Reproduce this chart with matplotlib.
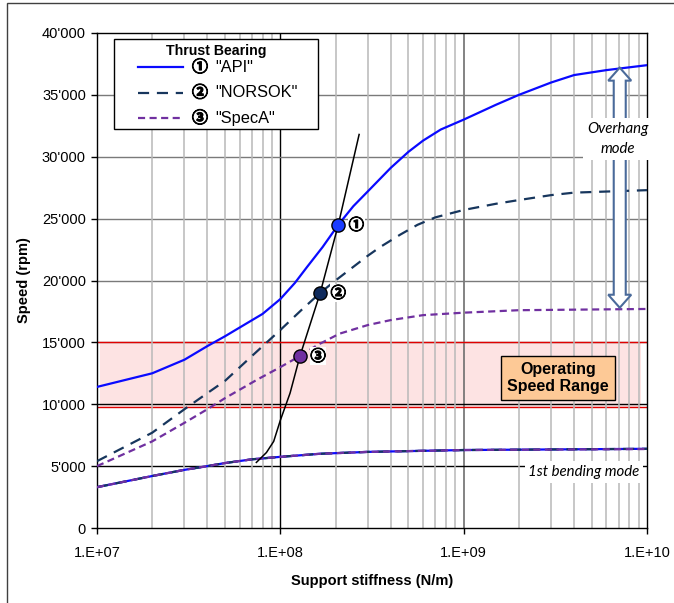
import matplotlib
matplotlib.use('Agg')
import matplotlib.pyplot as plt
import matplotlib.patheffects as pe
import numpy as np
from matplotlib.patches import Rectangle, Polygon
from matplotlib.lines import Line2D
from matplotlib.ticker import FixedLocator, FuncFormatter, NullFormatter

plt.rcParams['font.family'] = ['Liberation Sans', 'DejaVu Sans']
SYM = ['Noto Sans CJK JP', 'Liberation Sans']
THICK = [pe.Stroke(linewidth=0.8, foreground='black'), pe.Normal()]

# ---- data (stiffness N/m, speed rpm) ----
api_x = [1e7, 2e7, 3e7, 4e7, 5e7, 6e7, 8e7, 1e8, 1.2e8, 1.4e8, 1.7e8, 2.07e8, 2.5e8, 3e8, 4e8, 5e8, 6e8,
         7.5e8, 1e9, 1.5e9, 2e9, 3e9, 4e9, 6e9, 1e10]
api_y = [11400, 12500, 13600, 14700, 15500, 16200, 17300, 18500, 19800, 21100, 22700, 24500, 26000, 27200,
         29100, 30400, 31300, 32200, 33000, 34200, 35000, 36000, 36600, 37000, 37400]

norsok_x = [1e7, 2e7, 3e7, 4e7, 5e7, 7e7, 1e8, 1.3e8, 1.65e8, 2e8, 2.4e8, 3e8, 3.5e8, 4.5e8, 5.6e8, 7e8,
            1e9, 1.5e9, 2e9, 3e9, 4e9, 1e10]
norsok_y = [5400, 7700, 9600, 10900, 11900, 13900, 16000, 17600, 19000, 20000, 20900, 22000, 22700, 23700,
            24500, 25100, 25700, 26200, 26500, 26900, 27100, 27300]

speca_x = [1e7, 2e7, 3e7, 4e7, 5e7, 7.5e7, 1e8, 1.28e8, 1.6e8, 2.1e8, 3e8, 4e8, 6e8, 1e9, 2e9, 1e10]
speca_y = [5000, 7000, 8500, 9600, 10500, 12000, 13000, 13900, 14800, 15700, 16400, 16800, 17200, 17400,
           17600, 17700]

bend_x = [1e7, 2e7, 3e7, 4e7, 5e7, 7e7, 1e8, 1.65e8, 3e8, 1e9, 1e10]
bend_api_y = [3300, 4200, 4700, 5000, 5250, 5550, 5750, 6000, 6150, 6300, 6400]
bend_norsok_y = [3300, 4200, 4700, 5000, 5250, 5550, 5750, 6000, 6150, 6300, 6400]
bend_speca_y = [3300, 4200, 4700, 5000, 5250, 5550, 5750, 6000, 6150, 6300, 6380]

crit_x = [7.4e7, 8.4e7, 9.2e7, 1e8, 1.13e8, 1.28e8, 1.65e8, 2.07e8, 2.69e8]
crit_y = [5300, 6100, 7000, 8700, 10900, 13900, 19000, 24500, 31800]

point_x = [2.07e8, 1.65e8, 1.28e8]
point_y = [24500, 19000, 13900]
point_tags = ['\u2460', '\u2461', '\u2462']

band_low, band_high = 9750, 15000
overhang_top, overhang_bottom, overhang_k = 37200, 17800, 7.1e9

names = ['"API"', '"NORSOK"', '"SpecA"']
c_api, c_nor, c_spa = '#0a0aff', '#17365d', '#7030a0'
marker_fill = ['#1a3cff', '#0f2a5c', '#7030a0']

W, H = 674, 603
fig = plt.figure(figsize=(W / 100, H / 100), dpi=100)
ax = fig.add_axes([97 / W, 1 - 528 / H, 550 / W, 495 / H])
ax.set_xscale('log')
ax.set_xlim(1e7, 1e10)
ax.set_ylim(0, 40000)


def fpx(x, y):
    return x / W, 1 - y / H


# outer frame (only left/top visible)
fig.add_artist(Rectangle(fpx(7, 700), 800 / W, 697 / H, transform=fig.transFigure,
                         fill=False, ec='#404040', lw=1.0))

# grid
ax.xaxis.set_minor_locator(FixedLocator([m * 10 ** e for e in (7, 8, 9) for m in range(2, 10)]))
ax.grid(which='minor', axis='x', color='#b8b8b8', lw=1.1, zorder=0)
ax.axvline(1e8, color='#000000', lw=1.0, zorder=0.5)
ax.axvline(1e9, color='#6e6e6e', lw=1.2, zorder=0.5)
for v in range(15000, 40000, 5000):
    ax.axhline(v, color='#7a7a7a', lw=1.0, zorder=0.5)
for v in (5000, 10000):
    ax.axhline(v, color='#000000', lw=1.0, zorder=0.6)

# operating range band
ax.fill_between([1.04e7, 9.3e9], band_low, band_high, color='#fde3e3', lw=0, zorder=0.2)
ax.axhline(band_high, color='#e00000', lw=1.0, zorder=0.7)
ax.axhline(band_low, color='#e00000', lw=1.0, zorder=0.7)

# curves
ax.plot(api_x, api_y, color=c_api, lw=1.6, zorder=3)
ax.plot(norsok_x, norsok_y, color=c_nor, lw=1.6, dashes=(5, 3.5), zorder=3)
ax.plot(speca_x, speca_y, color=c_spa, lw=1.6, dashes=(3.2, 2), zorder=3)
ax.plot(bend_x, bend_api_y, color=c_api, lw=1.6, zorder=3)
ax.plot(bend_x, bend_norsok_y, color=c_nor, lw=1.6, dashes=(5, 3.5), zorder=3.1)
ax.plot(bend_x, bend_speca_y, color=c_spa, lw=1.6, dashes=(3.2, 2), zorder=3.2)
ax.plot(crit_x, crit_y, color='black', lw=1.1, zorder=4)

for px_, py_, tag, fc in zip(point_x, point_y, point_tags, marker_fill):
    ax.plot(px_, py_, 'o', ms=9.5, mfc=fc, mec='black', mew=1.0, zorder=5)
    ax.annotate(tag, (px_, py_), xytext=(13, 0), textcoords='offset points', va='center',
                ha='center', fontsize=11, fontweight='bold', family=SYM, zorder=6,
                path_effects=THICK,
                bbox=dict(boxstyle='square,pad=0.05', fc='white', ec='none'))

# ticks
ax.set_xticks([1e7, 1e8, 1e9, 1e10])
ax.xaxis.set_major_formatter(FuncFormatter(lambda v, p: '1.E+%02d' % round(np.log10(v))))
ax.xaxis.set_minor_formatter(NullFormatter())
ax.set_yticks(range(0, 40001, 5000))
ax.yaxis.set_major_formatter(FuncFormatter(lambda v, p: f'{v:,.0f}'.replace(',', "'")))
ax.tick_params(which='major', direction='out', length=4, width=1, labelsize=10.5, pad=4)
ax.tick_params(axis='x', which='major', pad=9)
ax.tick_params(which='minor', length=0)
for s in ax.spines.values():
    s.set_linewidth(1.0)

ax.set_xlabel('Support stiffness (N/m)', fontsize=10.5, fontweight='bold', labelpad=10)
ax.set_ylabel('Speed (rpm)', fontsize=10.5, fontweight='bold', labelpad=8)

# operating speed range box
ax.text(0.838, 0.303, 'Operating\nSpeed Range', transform=ax.transAxes, ha='center', va='center',
        fontsize=11.5, fontweight='bold', linespacing=1.15, zorder=6,
        bbox=dict(boxstyle='square,pad=0.38', fc='#fdc996', ec='black', lw=1.0))

# overhang double arrow (hollow)
xt, yt = ax.transData.transform((overhang_k, overhang_top))
xb, yb = ax.transData.transform((overhang_k, overhang_bottom))
sw, hw, hl = 6.0, 11.5, 13.0
pts = [(xt, yt), (xt + hw, yt - hl), (xt + sw, yt - hl), (xt + sw, yb + hl), (xb + hw, yb + hl),
       (xb, yb), (xb - hw, yb + hl), (xb - sw, yb + hl), (xb - sw, yt - hl), (xt - hw, yt - hl)]
ax.add_patch(Polygon(pts, closed=True, transform=None, fc='white', ec='#4a6a9a', lw=1.5, zorder=6))

ax.text(*fpx(618, 139), 'Overhang\nmode', transform=fig.transFigure, ha='center', va='center',
        fontsize=10.8, style='italic', family='Lato', linespacing=1.5, zorder=7,
        bbox=dict(boxstyle='square,pad=0.3', fc='white', ec='none'))
ax.text(*fpx(584, 472), '1st bending mode', transform=fig.transFigure, ha='center', va='center',
        fontsize=10.8, style='italic', family='Lato', zorder=7,
        bbox=dict(boxstyle='square,pad=0.25', fc='white', ec='none'))

# legend box
lx0, ly0, lx1, ly1 = 114, 39, 318, 129
fig.add_artist(Rectangle(fpx(lx0, ly1), (lx1 - lx0) / W, (ly1 - ly0) / H, transform=fig.transFigure,
                         fc='white', ec='black', lw=1.0, zorder=8))
fig.text(*fpx(216, 51), 'Thrust Bearing', ha='center', va='center', fontsize=10.2,
         fontweight='bold', zorder=9)
styles = [dict(color=c_api), dict(color=c_nor, dashes=(5, 3.5)), dict(color=c_spa, dashes=(3.2, 2))]
for i, (nm, st) in enumerate(zip(names, styles)):
    yrow = 67 + i * 25.5
    fig.add_artist(Line2D([138 / W, 183 / W], [1 - yrow / H] * 2, transform=fig.transFigure,
                          lw=1.6, zorder=9, **st))
    fig.text(*fpx(192, yrow), point_tags[i], ha='left', va='center', fontsize=11.5,
             fontweight='bold', family=SYM, zorder=9, path_effects=THICK)
    fig.text(*fpx(215, yrow), nm, ha='left', va='center', fontsize=11.8, zorder=9)

fig.savefig('out.png', dpi=100)
